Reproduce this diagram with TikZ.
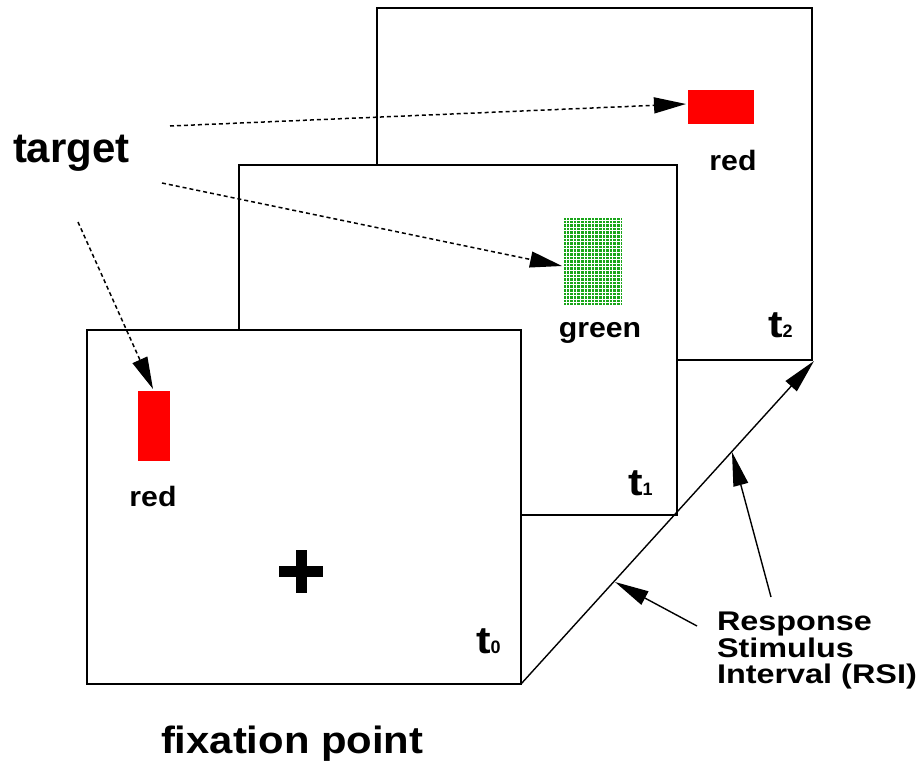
\documentclass[tikz,border=0pt]{standalone}
\usepackage{fontspec}
\setmainfont{Liberation Sans}
\usetikzlibrary{arrows.meta}
\newcommand{\fsz}[2]{\fontsize{#1}{#2}\selectfont}
\begin{document}
\begin{tikzpicture}[x=1pt,y=-1pt,
  frame/.style={draw=black,line width=1.6pt,fill=white,inner sep=0pt,outer sep=0pt},
  stim/.style={inner sep=0pt,outer sep=0pt},
  lbl/.style={inner sep=0pt,outer sep=0pt,font=\bfseries},
  darr/.style={dash pattern=on 4pt off 3pt,line width=1.5pt,-{Triangle[length=32pt,width=16pt]}},
  sarr/.style={line width=1.4pt,-{Triangle[length=34pt,width=15pt]}}]
\useasboundingbox (0,0) rectangle (922,774);
% frames
\node[frame,minimum width=435pt,minimum height=352pt] (f2) at (594.5,184) {};
\node[frame,minimum width=438pt,minimum height=350pt] (f1) at (458,340) {};
\node[frame,minimum width=434pt,minimum height=354pt] (f0) at (304,507) {};
% stimuli
\node[stim,fill={rgb,255:red,255;green,0;blue,0},minimum width=32pt,minimum height=70pt] (r0) at (154,426) {};
\node[stim,fill={rgb,255:red,255;green,0;blue,0},minimum width=66pt,minimum height=34pt] (r2) at (721,106.5) {};
\node[stim,fill={rgb,255:red,25;green,165;blue,25},minimum width=58pt,minimum height=87pt] (g1) at (593,261.5) {};
\begin{scope}
\clip (564,218) rectangle (622,305);
\foreach \i in {0,...,16} {
  \draw[white,line width=0.5pt] (565.8+3.6*\i,218) -- (565.8+3.6*\i,305);
}
\foreach \j in {0,...,24} {
  \draw[white,line width=0.5pt] (564,219.8+3.6*\j) -- (622,219.8+3.6*\j);
}
\end{scope}
% fixation cross
\fill (279,566) rectangle (323,577);
\fill (296,550) rectangle (307,593);
% labels
\node[lbl,anchor=base] (l0) at (153,506) {\fsz{28}{30}\scalebox{1.08}[1]{red}};
\node[lbl,anchor=base] (l2) at (733,170) {\fsz{28}{30}\scalebox{1.08}[1]{red}};
\node[lbl,anchor=base] (l1) at (600,337) {\fsz{28}{30}\scalebox{1.08}[1]{green}};
\node[lbl,anchor=base west] (t0) at (476,653) {\fsz{38}{40}\scalebox{1.15}[1]{t}{\fsz{18}{20}0}};
\node[lbl,anchor=base west] (t1) at (628,495) {\fsz{38}{40}\scalebox{1.15}[1]{t}{\fsz{18}{20}1}};
\node[lbl,anchor=base west] (t2) at (768,337) {\fsz{38}{40}\scalebox{1.15}[1]{t}{\fsz{18}{20}2}};
\node[lbl,anchor=base west] (tg) at (13,162) {\fsz{42}{46}target};
\node[lbl,anchor=base west] (fx) at (161,753) {\fsz{38}{42}\scalebox{1.1}[1]{fixation point}};
\node[lbl,anchor=base west] (rs1) at (717,630) {\fsz{27}{28}\scalebox{1.2}[1]{Response}};
\node[lbl,anchor=base west] (rs2) at (717,657) {\fsz{27}{28}\scalebox{1.2}[1]{Stimulus}};
\node[lbl,anchor=base west] (rs3) at (717,683) {\fsz{27}{28}\scalebox{1.2}[1]{Interval (RSI)}};
% dashed target arrows
\coordinate (s1) at (170,126);
\coordinate (s2) at (162,183);
\coordinate (s3) at (78,222);
\coordinate (e1) at (686,104);
\coordinate (e2) at (562,266);
\coordinate (e3) at (153,389);
\draw[darr] (s1) -- (e1);
\draw[darr] (s2) -- (e2);
\draw[darr] (s3) -- (e3);
% RSI line and arrows
\coordinate (top) at (814,361);
\draw[sarr] (f0.south east) -- (top);
\coordinate (a1s) at (697,626);
\coordinate (a1e) at (615,582);
\coordinate (a2s) at (771,597);
\coordinate (a2e) at (732,452);
\draw[sarr] (a1s) -- (a1e);
\draw[sarr] (a2s) -- (a2e);
\end{tikzpicture}
\end{document}
